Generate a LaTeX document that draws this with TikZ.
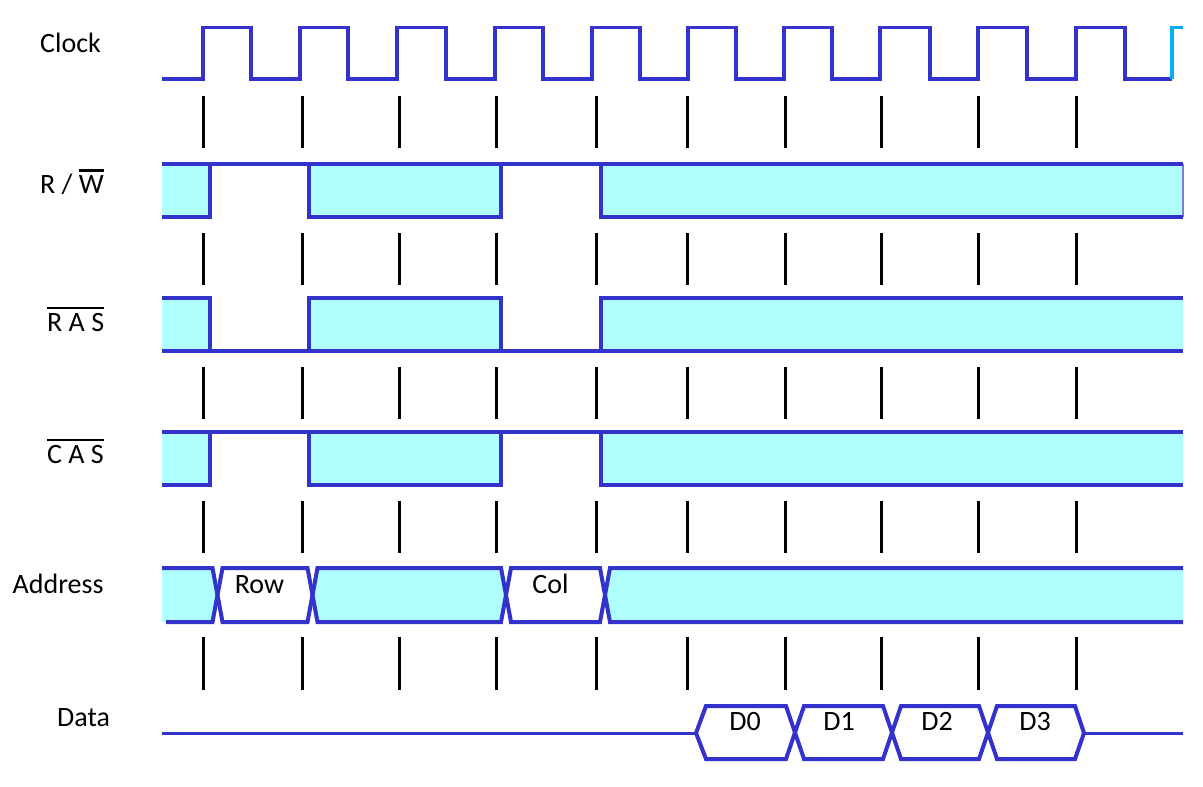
\documentclass[tikz,border=0pt]{standalone}
\usepackage{fontspec}
\setmainfont{Carlito}
\definecolor{sigblue}{RGB}{51,51,204}
\definecolor{cyanfill}{RGB}{176,255,255}
\definecolor{edgeblue}{RGB}{125,125,222}
\newcommand\ovbar[1]{\leavevmode\vbox{\hrule height 2.6pt\kern 3.5pt\hbox{#1}}}
\begin{document}
\begin{tikzpicture}[x=1pt,y=-1pt,
  lbl/.style={font=\fontsize{28}{34}\selectfont, inner sep=0pt, anchor=base west},
  txt/.style={font=\fontsize{28}{34}\selectfont, inner sep=0pt, anchor=base},
  sig/.style={draw=sigblue, line width=4pt},
  thinsig/.style={draw=sigblue, line width=3pt},
  clk/.style={draw=sigblue, line width=3.6pt},
  tickmark/.style={draw=black, line width=3pt},
  cyfill/.style={fill=cyanfill}]
\useasboundingbox[fill=white] (0,0) rectangle (1203,787);

% ---- Clock ----
\draw[clk] (162,79)
  \foreach \r/\f in {203/251,300/348,397/446,495/543,592/640,688/736,784/832,880/930,978/1027,1076/1125}
    { -- (\r,79) -- (\r,27.5) -- (\f,27.5) -- (\f,79)} -- (1172,79);
\draw[draw=cyan, line width=3.6pt] (1172,79) -- (1172,27.5) -- (1183,27.5);

% ---- tick marks ----
\foreach \x in {203,302,399,496,596,687,785,881,978,1076}
  \foreach \a/\b in {96/148,233/285,367/419,501/553,637/690}
    \draw[tickmark] (\x,\a) -- (\x,\b);

% ---- R/W ----
\fill[cyfill] (162,164) rectangle (210,217);
\fill[cyfill] (309,164) rectangle (501,217);
\fill[cyfill] (601,164) rectangle (1183,217);
\draw[edgeblue, line width=2pt] (1183,164) -- (1183,217);
\draw[sig] (162,164) -- (1183,164);
\draw[sig] (162,217) -- (210,217) -- (210,164);
\draw[sig] (309,164) -- (309,217) -- (501,217) -- (501,164);
\draw[sig] (601,164) -- (601,217) -- (1183,217);

% ---- RAS ----
\fill[cyfill] (162,298) rectangle (210,351);
\fill[cyfill] (309,298) rectangle (501,351);
\fill[cyfill] (601,298) rectangle (1183,351);
\draw[sig] (162,351) -- (1183,351);
\draw[sig] (162,298) -- (210,298) -- (210,351);
\draw[sig] (309,351) -- (309,298) -- (501,298) -- (501,351);
\draw[sig] (601,351) -- (601,298) -- (1183,298);

% ---- CAS ----
\fill[cyfill] (162,432) rectangle (210,485);
\fill[cyfill] (309,432) rectangle (501,485);
\fill[cyfill] (601,432) rectangle (1183,485);
\draw[sig] (162,432) -- (1183,432);
\draw[sig] (162,485) -- (210,485) -- (210,432);
\draw[sig] (309,432) -- (309,485) -- (501,485) -- (501,432);
\draw[sig] (601,432) -- (601,485) -- (1183,485);

% ---- Address ----
\fill[cyfill] (162,568) -- (212.5,568) -- (217.5,595) -- (212.5,622) -- (162,622) -- cycle;
\fill[cyfill] (317.5,568) -- (501,568) -- (506,595) -- (501,622) -- (317.5,622) -- (312.5,595) -- cycle;
\fill[cyfill] (610,568) -- (1183,568) -- (1183,622) -- (610,622) -- (605,595) -- cycle;
\draw[sig] (162,568) -- (212.5,568) -- (222.5,622) -- (307.5,622) -- (317.5,568) -- (501,568) -- (511,622) -- (600,622) -- (610,568) -- (1183,568);
\draw[sig] (166,622) -- (212.5,622) -- (222.5,568) -- (307.5,568) -- (317.5,622) -- (501,622) -- (511,568) -- (600,568) -- (610,622) -- (1183,622);

% ---- Data ----
\draw[thinsig] (162,733) -- (696,733);
\draw[thinsig] (1084,733) -- (1183,733);
\draw[sig] (696,733) -- (706,706) -- (786,706) -- (804,759) -- (883,759) -- (901,706) -- (979,706) -- (997,759) -- (1075,759) -- (1084,733);
\draw[sig] (696,733) -- (706,759) -- (786,759) -- (804,706) -- (883,706) -- (901,759) -- (979,759) -- (997,706) -- (1075,706) -- (1084,733);

% ---- labels ----
\node[lbl] (clock) at (40,52) {Clock};
\node[lbl] (rw) at (40,193) {R / \ovbar{W}};
\node[lbl] (ras) at (47,331) {\ovbar{R A S}};
\node[lbl] (cas) at (47,463) {\ovbar{C A S}};
\node[lbl] (addr) at (12.5,593) {Address};
\node[lbl] (data) at (57,726) {Data};
\node[txt] (row) at (259.5,593) {Row};
\node[txt] (col) at (550.5,593) {Col};
\node[txt] (d0) at (745,730) {D0};
\node[txt] (d1) at (839,730) {D1};
\node[txt] (d2) at (937,730) {D2};
\node[txt] (d3) at (1035,730) {D3};
\end{tikzpicture}
\end{document}
